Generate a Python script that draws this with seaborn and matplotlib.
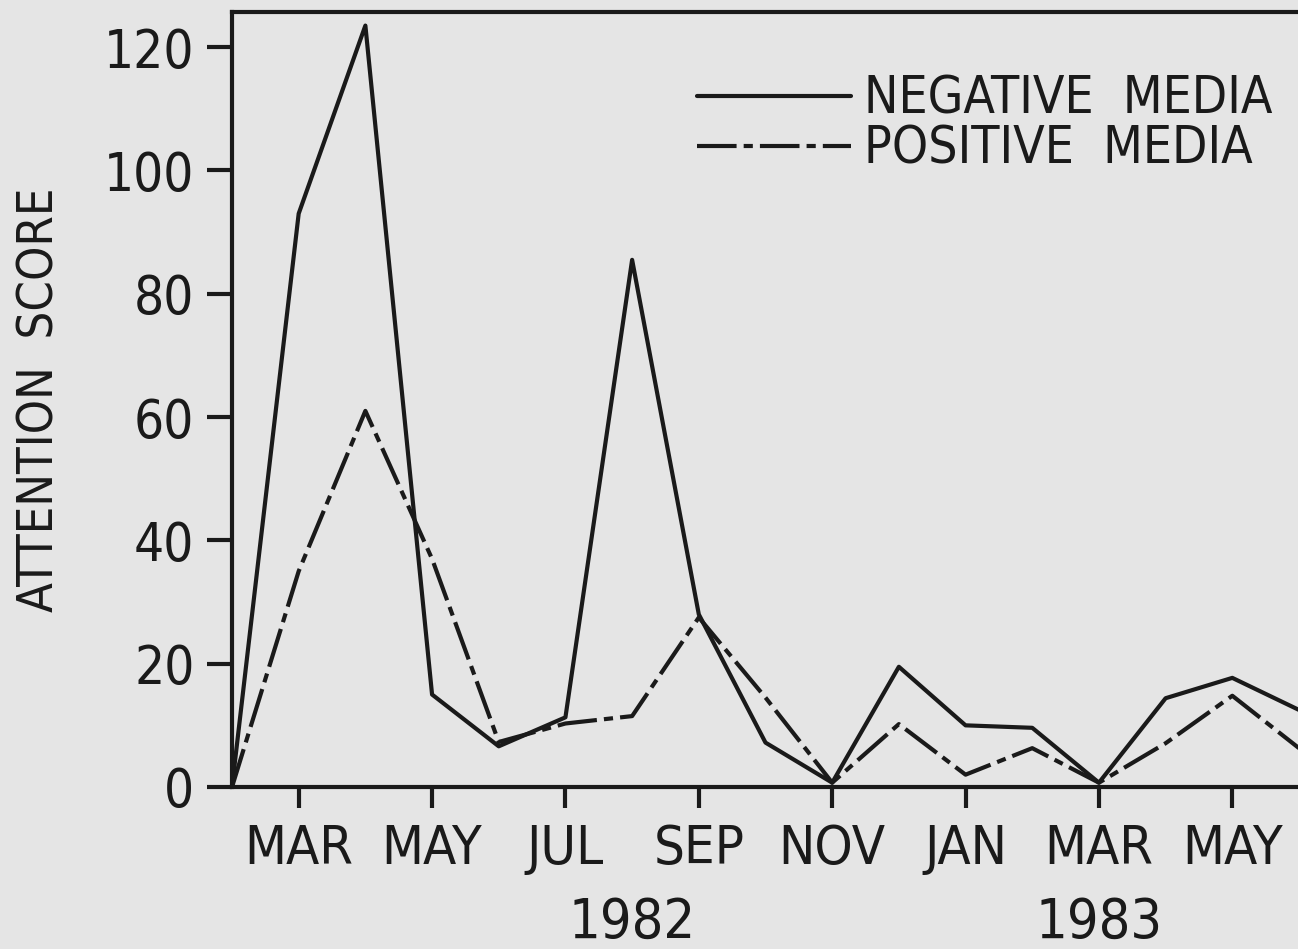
import pandas as pd
import seaborn as sns
import matplotlib.pyplot as plt
from matplotlib.transforms import blended_transform_factory

# months from FEB 1982 (0) to JUN 1983 (16)
months = list(range(17))
negative_media = [0, 93, 123.5, 15, 6.6, 11.3, 85.5, 28, 7.2, 0.7, 19.5, 10, 9.6, 0.7, 14.4, 17.7, 12.5]
positive_media = [0, 35, 61, 37, 7.3, 10.3, 11.5, 27.5, 14.5, 0.7, 10.2, 2, 6.3, 0.7, 7.1, 14.8, 6.3]
tick_months = [1, 3, 5, 7, 9, 11, 13, 15]
tick_labels = ['MAR', 'MAY', 'JUL', 'SEP', 'NOV', 'JAN', 'MAR', 'MAY']
year_labels = [(6, '1982'), (13, '1983')]
y_ticks = [0, 20, 40, 60, 80, 100, 120]

df = pd.DataFrame({
    'month': months * 2,
    'score': negative_media + positive_media,
    'series': ['NEGATIVE MEDIA'] * 17 + ['POSITIVE MEDIA'] * 17,
})

sns.set_style('white')
plt.rcParams['font.family'] = ['DejaVu Sans']
plt.rcParams['font.stretch'] = 'condensed'
ink = '#1a1a1a'
paper = '#e5e5e5'

fig = plt.figure(figsize=(12.98, 9.49), dpi=100)
fig.patch.set_facecolor(paper)
ax = fig.add_axes([232 / 1298, 162 / 949, 1087 / 1298, 775 / 949])
ax.set_facecolor(paper)

sns.lineplot(data=df, x='month', y='score', style='series',
             dashes={'NEGATIVE MEDIA': '', 'POSITIVE MEDIA': (9.5, 1.7, 2.2, 1.7)},
             color=ink, lw=3, ax=ax)

ax.set_xlim(0, 16.3)
ax.set_ylim(0, 125.7)
ax.set_xticks(tick_months)
ax.set_xticklabels(tick_labels)
ax.set_yticks(y_ticks)
ax.tick_params(axis='both', direction='out', width=3, color=ink,
               labelcolor=ink, bottom=True, left=True)
ax.tick_params(axis='x', length=15, labelsize=39, pad=11)
ax.tick_params(axis='y', length=18, labelsize=38, pad=9)
for side in ['left', 'bottom', 'top']:
    ax.spines[side].set_color(ink)
    ax.spines[side].set_linewidth(3)
ax.spines['right'].set_visible(False)

ax.set_xlabel('')
ax.set_ylabel('ATTENTION  SCORE', fontsize=35, color=ink)
ax.yaxis.set_label_coords(-0.155, 0.5)

trans = blended_transform_factory(ax.transData, ax.transAxes)
for m, yr in year_labels:
    ax.text(m, -0.14, yr, transform=trans, ha='center', va='top', fontsize=40, color=ink)

handles, labels = ax.get_legend_handles_labels()
ax.legend(handles, ['NEGATIVE  MEDIA', 'POSITIVE  MEDIA'], loc='upper left',
          bbox_to_anchor=(697 / 1298, 1 - 75 / 949), bbox_transform=fig.transFigure,
          frameon=False, fontsize=37, handlelength=3.0, handletextpad=0.25,
          labelspacing=0.0, borderaxespad=0, borderpad=0, labelcolor=ink)

fig.savefig('out.png', dpi=100, facecolor=paper)
